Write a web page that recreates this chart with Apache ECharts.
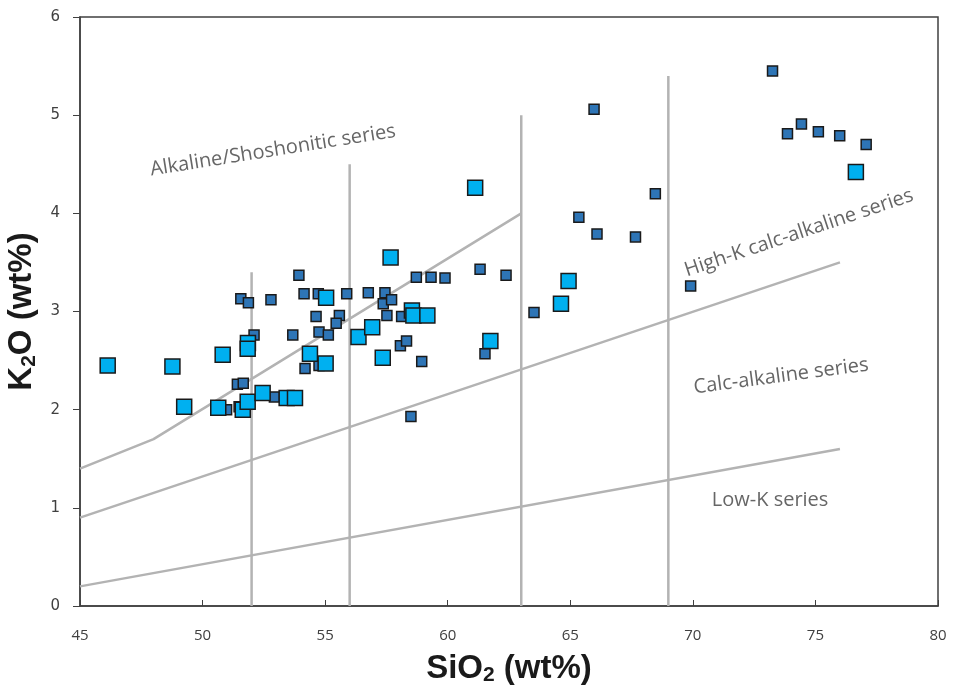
<!DOCTYPE html>
<html lang="en">
<head>
	<meta charset="UTF-8">
	<title>K2O vs SiO2</title>
	<script src="https://cdn.jsdelivr.net/npm/echarts@6/dist/echarts.min.js"></script>
</head>
<body style="margin:0;background:#FFF;">
	<div id="chart" style="width:954px;height:690px;"></div>
<script type="text/javascript">
	// 样品数据 - 深蓝小方块
	let darkSiO2 = [51.56, 51.87, 52.79, 52.1, 53.68, 53.93, 51.42, 51.66, 50.98, 51.49,
		52.93, 54.14, 54.72, 55.88, 56.76, 57.44, 57.37, 57.71, 57.52, 58.12,
		58.72, 59.32, 59.89, 61.32, 62.38, 54.63, 55.58, 55.45, 54.75, 55.13,
		54.18, 58.07, 58.32, 58.94, 61.52, 58.5, 54.75, 73.25, 65.97, 73.86,
		74.43, 75.12, 75.99, 77.07, 68.47, 65.35, 66.09, 67.66, 63.52, 69.91];
	let darkK2O = [3.13, 3.09, 3.12, 2.76, 2.76, 3.37, 2.26, 2.27, 2.0, 2.03,
		2.13, 3.18, 3.18, 3.18, 3.19, 3.19, 3.08, 3.12, 2.96, 2.95,
		3.35, 3.35, 3.34, 3.43, 3.37, 2.95, 2.96, 2.88, 2.79, 2.76,
		2.42, 2.65, 2.70, 2.49, 2.57, 1.93, 2.45, 5.45, 5.06, 4.81,
		4.91, 4.83, 4.79, 4.70, 4.20, 3.96, 3.79, 3.76, 2.99, 3.26];
	// 浅蓝大方块
	let lightSiO2 = [46.13, 48.77, 50.82, 51.85, 51.84, 49.25, 50.64, 51.64, 51.84, 52.45,
		53.43, 53.77, 57.67, 55.04, 54.38, 55.02, 56.36, 56.92, 57.35, 58.54,
		58.6, 59.17, 61.74, 76.65, 64.93, 64.62, 61.12];
	let lightK2O = [2.45, 2.44, 2.56, 2.68, 2.62, 2.03, 2.02, 2.0, 2.08, 2.17,
		2.12, 2.12, 3.55, 3.14, 2.57, 2.47, 2.74, 2.84, 2.53, 3.01,
		2.96, 2.96, 2.70, 4.42, 3.31, 3.08, 4.26];

	// 分界线
	let shoshoniticLine = [[45, 1.4], [48, 1.7], [63, 4.0]];
	let highKLine = [[45, 0.9], [76, 3.5]];
	let lowKLine = [[45, 0.2], [76, 1.6]];
	let dividers = [[52, 3.4], [56, 4.5], [63, 5.0], [69, 5.4]];

	// 系列名称标注: [x, y, text, rotate]
	let seriesLabels = [
		[52.87, 4.64, 'Alkaline/Shoshonitic series', 9],
		[74.33, 3.80, 'High-K calc-alkaline series', 18.5],
		[73.6, 2.34, 'Calc-alkaline series', 7.5],
		[73.15, 1.08, 'Low-K series', 0]
	];

	function zip(xs, ys) {
		return xs.map(function (x, i) { return [x, ys[i]]; });
	}

	let lineStyle = { color: '#B3B3B3', width: 2.5 };
	function boundary(data) {
		return {
			type: 'line', data: data, symbol: 'none', silent: true,
			lineStyle: lineStyle, z: 1, animation: false
		};
	}

	let series = [
		boundary(shoshoniticLine),
		boundary(highKLine),
		boundary(lowKLine)
	];
	dividers.forEach(function (d) {
		series.push(boundary([[d[0], 0], [d[0], d[1]]]));
	});
	series.push({
		type: 'scatter',
		data: seriesLabels.map(function (s) { return { value: [s[0], s[1]], text: s[2] }; }),
		symbolSize: 0,
		silent: true,
		z: 2,
		label: {
			show: true,
			position: 'inside',
			color: '#404040',
			fontSize: 20,
			fontFamily: 'Open Sans',
			formatter: function (p) { return p.data.text; }
		},
		labelLayout: function (params) {
			return { rotate: seriesLabels[params.dataIndex][3] };
		}
	});
	series.push({
		type: 'scatter',
		data: zip(darkSiO2, darkK2O),
		symbol: 'rect',
		symbolSize: 10,
		z: 3,
		itemStyle: { color: '#2E75B6', borderColor: '#1A1A1A', borderWidth: 1.5, opacity: 1 }
	});
	series.push({
		type: 'scatter',
		data: zip(lightSiO2, lightK2O),
		symbol: 'rect',
		symbolSize: 15,
		z: 4,
		itemStyle: { color: '#00B0F0', borderColor: '#1A1A1A', borderWidth: 1.5, opacity: 1 }
	});

	let titleStyle = {
		fontSize: 33, fontWeight: 'bold', color: '#1A1A1A', fontFamily: 'Liberation Sans',
		rich: { sub: { fontSize: 21, fontWeight: 'bold', fontFamily: 'Liberation Sans', color: '#1A1A1A', padding: [14, 0, 0, 0] } }
	};

	let myChart = echarts.init(document.getElementById('chart'));
	myChart.setOption({
		animation: false,
		grid: {
			left: 80, right: 16, top: 17, bottom: 84,
			outerBoundsMode: 'none',
			containLabel: false,
			show: true, borderColor: '#404040', borderWidth: 1.5
		},
		xAxis: {
			type: 'value', min: 45, max: 80, interval: 5,
			splitLine: { show: false },
			axisLine: { lineStyle: { color: '#404040', width: 1.5 } },
			axisTick: { inside: true, length: 6, lineStyle: { color: '#404040' } },
			axisLabel: { color: '#404040', fontSize: 15, margin: 22, fontFamily: 'Open Sans' },
			name: 'SiO{sub|2} (wt%)',
			nameLocation: 'middle',
			nameGap: 45,
			nameTextStyle: titleStyle
		},
		yAxis: {
			type: 'value', min: 0, max: 6, interval: 1,
			splitLine: { show: false },
			axisLine: { show: true, lineStyle: { color: '#404040', width: 1.5 } },
			axisTick: { show: true, length: 7, lineStyle: { color: '#404040' } },
			axisLabel: { color: '#404040', fontSize: 15, margin: 20, fontFamily: 'DejaVu Sans' },
			name: 'K{sub|2}O (wt%)',
			nameLocation: 'middle',
			nameRotate: 90,
			nameGap: 36,
			nameTextStyle: titleStyle
		},
		series: series
	});
</script>
</body>
</html>
